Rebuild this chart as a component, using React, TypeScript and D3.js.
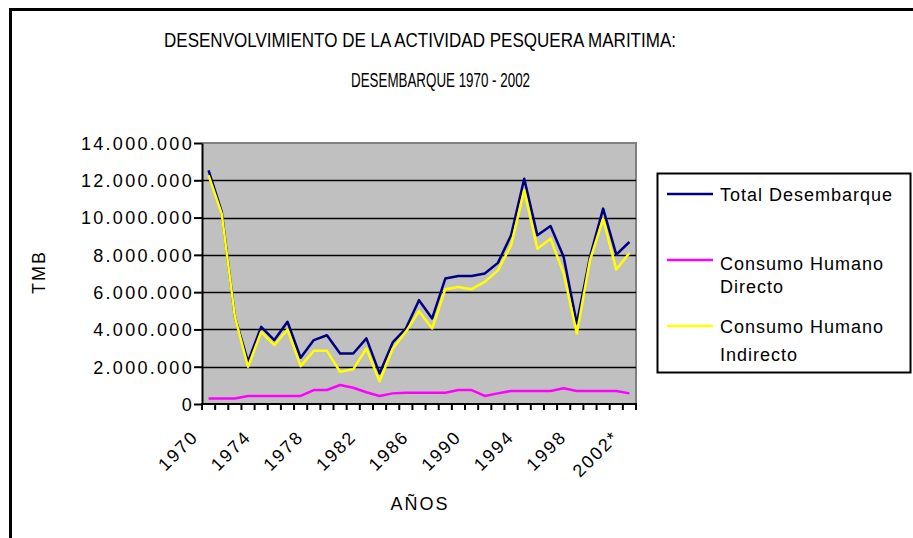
import React, { useEffect, useRef } from "react";
import * as d3 from "d3";

// Desembarque (TMB) por año
const years = [
  "1970", "1971", "1972", "1973", "1974", "1975", "1976", "1977", "1978", "1979",
  "1980", "1981", "1982", "1983", "1984", "1985", "1986", "1987", "1988", "1989",
  "1990", "1991", "1992", "1993", "1994", "1995", "1996", "1997", "1998", "1999",
  "2000", "2001", "2002*",
];

const totalDesembarque = [
  12530000, 10300000, 4670000, 2270000, 4140000, 3430000, 4410000, 2480000, 3430000, 3690000,
  2710000, 2710000, 3520000, 1640000, 3300000, 4050000, 5570000, 4590000, 6730000, 6870000,
  6870000, 7000000, 7570000, 9050000, 12080000, 9050000, 9550000, 7890000, 4320000, 7890000,
  10480000, 8010000, 8690000,
];

const consumoDirecto = [
  300000, 300000, 300000, 430000, 430000, 430000, 430000, 430000, 750000, 750000,
  1020000, 870000, 630000, 430000, 570000, 600000, 600000, 600000, 600000, 750000,
  750000, 430000, 570000, 700000, 700000, 700000, 700000, 840000, 700000, 700000,
  700000, 700000, 570000,
];

const consumoIndirecto = [
  12260000, 10200000, 4670000, 2000000, 3870000, 3160000, 4000000, 2030000, 2850000, 2850000,
  1730000, 1860000, 2980000, 1220000, 2960000, 3870000, 4980000, 4050000, 6160000, 6280000,
  6160000, 6550000, 7170000, 8510000, 11460000, 8330000, 8870000, 7000000, 3780000, 7710000,
  9940000, 7210000, 8100000,
];

const yTicks = [0, 2000000, 4000000, 6000000, 8000000, 10000000, 12000000, 14000000];
const shownYearLabels = ["1970", "1974", "1978", "1982", "1986", "1990", "1994", "1998", "2002*"];

const seriesNames = ["Total Desembarque", "Consumo Humano Directo", "Consumo Humano Indirecto"];
const seriesColors = ["#000080", "#FF00FF", "#FFFF00"];

const FONT = "'Liberation Sans', Arial, sans-serif";

const App = () => {
  const chartRef = useRef<HTMLDivElement>(null);

  useEffect(() => {
    const width = 913;
    const height = 538;
    const plot = { left: 202, right: 636, top: 143, bottom: 404 };

    d3.select(chartRef.current).select("svg").remove();

    const svg = d3
      .select(chartRef.current)
      .append("svg")
      .attr("width", width)
      .attr("height", height)
      .style("display", "block")
      .style("font-family", FONT);

    svg.append("rect").attr("width", width).attr("height", height).attr("fill", "#fff");

    // outer chart border (runs off the right/bottom edge)
    svg
      .append("rect")
      .attr("x", 10.5)
      .attr("y", 9.5)
      .attr("width", 1000)
      .attr("height", 1000)
      .attr("fill", "none")
      .attr("stroke", "#000")
      .attr("stroke-width", 3);

    // title (squeezed like the original metafile text)
    svg
      .append("text")
      .attr("x", 164)
      .attr("y", 47)
      .attr("textLength", 512)
      .attr("lengthAdjust", "spacingAndGlyphs")
      .style("font-size", "20px")
      .text("DESENVOLVIMIENTO DE LA ACTIVIDAD PESQUERA MARITIMA:");
    svg
      .append("text")
      .attr("x", 351)
      .attr("y", 87)
      .attr("textLength", 179)
      .attr("lengthAdjust", "spacingAndGlyphs")
      .style("font-size", "20px")
      .text("DESEMBARQUE 1970 - 2002");

    const x = d3.scaleBand().domain(years).range([plot.left, plot.right]).padding(0);
    const y = d3.scaleLinear().domain([0, 14000000]).range([plot.bottom, plot.top]);
    const cx = (yr) => x(yr) + x.bandwidth() / 2;

    // plot area
    svg
      .append("rect")
      .attr("x", plot.left)
      .attr("y", plot.top)
      .attr("width", plot.right - plot.left)
      .attr("height", plot.bottom - plot.top)
      .attr("fill", "#C0C0C0");
    svg
      .append("path")
      .attr("d", `M${plot.left},${plot.top} H${plot.right} V${plot.bottom}`)
      .attr("fill", "none")
      .attr("stroke", "#808080")
      .attr("stroke-width", 2);

    // gridlines
    svg
      .append("g")
      .selectAll("line")
      .data(yTicks.filter((d) => d > 0 && d < 14000000))
      .enter()
      .append("line")
      .attr("x1", plot.left)
      .attr("x2", plot.right)
      .attr("y1", (d) => Math.round(y(d)) + 0.5)
      .attr("y2", (d) => Math.round(y(d)) + 0.5)
      .attr("stroke", "#000")
      .attr("stroke-width", 1.5);

    const fmt = d3.formatLocale({ decimal: ",", thousands: ".", grouping: [3], currency: ["", ""] }).format(",.0f");

    // y axis
    const yAxis = svg
      .append("g")
      .attr("transform", `translate(${plot.left},0)`)
      .call(d3.axisLeft(y).tickValues(yTicks).tickSize(8).tickSizeOuter(0).tickPadding(8).tickFormat((d) => fmt(d)));
    yAxis.select(".domain").attr("stroke", "#000").attr("stroke-width", 2);
    yAxis.selectAll(".tick line").attr("stroke", "#000").attr("stroke-width", 2);
    yAxis
      .selectAll("text")
      .attr("fill", "#000")
      .attr("x", -8)
      .attr("dy", "0.35em")
      .style("font-family", FONT)
      .style("font-size", "18px")
      .style("letter-spacing", "2.3px");

    // x axis: ticks at category boundaries
    const xAxisG = svg.append("g");
    xAxisG
      .append("line")
      .attr("x1", plot.left - 1)
      .attr("x2", plot.right + 1)
      .attr("y1", plot.bottom)
      .attr("y2", plot.bottom)
      .attr("stroke", "#000")
      .attr("stroke-width", 2);
    xAxisG
      .selectAll(".xt")
      .data(years.map((yr) => x(yr)).concat([plot.right]))
      .enter()
      .append("line")
      .attr("class", "xt")
      .attr("x1", (d) => d)
      .attr("x2", (d) => d)
      .attr("y1", plot.bottom)
      .attr("y2", plot.bottom + 6)
      .attr("stroke", "#000")
      .attr("stroke-width", 2);
    xAxisG
      .selectAll(".xl")
      .data(shownYearLabels)
      .enter()
      .append("text")
      .attr("class", "xl")
      .attr("transform", (d) => `translate(${cx(d) - 9},${438}) rotate(-45)`)
      .attr("text-anchor", "end")
      .style("font-size", "18px")
      .style("letter-spacing", "2px")
      .text((d) => d);

    // axis titles
    svg
      .append("text")
      .attr("transform", "translate(45,272) rotate(-90)")
      .attr("text-anchor", "middle")
      .style("font-size", "18px")
      .style("letter-spacing", "2px")
      .text("TMB");
    svg
      .append("text")
      .attr("x", 420)
      .attr("y", 510)
      .attr("text-anchor", "middle")
      .style("font-size", "18px")
      .style("letter-spacing", "2px")
      .text("AÑOS");

    // lines
    const seriesData = [totalDesembarque, consumoDirecto, consumoIndirecto];
    const line = d3
      .line()
      .x((d, i) => cx(years[i]))
      .y((d) => y(d));
    seriesData.forEach((vals, k) => {
      svg
        .append("path")
        .datum(vals)
        .attr("d", line)
        .attr("fill", "none")
        .attr("stroke", seriesColors[k])
        .attr("stroke-width", 2.5)
        .attr("stroke-linejoin", "round");
    });

    // legend
    const legend = svg.append("g");
    legend
      .append("rect")
      .attr("x", 657.5)
      .attr("y", 173.5)
      .attr("width", 253)
      .attr("height", 199)
      .attr("fill", "#fff")
      .attr("stroke", "#000")
      .attr("stroke-width", 2);

    const legendItems = [
      { lineY: 194, lines: ["Total Desembarque"], baselines: [200.5] },
      { lineY: 260, lines: ["Consumo Humano", "Directo"], baselines: [269.5, 293] },
      { lineY: 326, lines: ["Consumo Humano", "Indirecto"], baselines: [332.5, 360.5] },
    ];
    legendItems.forEach((item, k) => {
      legend
        .append("line")
        .attr("x1", 667)
        .attr("x2", 713)
        .attr("y1", item.lineY)
        .attr("y2", item.lineY)
        .attr("stroke", seriesColors[k])
        .attr("stroke-width", 2.5)
        .append("title")
        .text(seriesNames[k]);
      item.lines.forEach((t, j) => {
        legend
          .append("text")
          .attr("x", 720)
          .attr("y", item.baselines[j])
          .style("font-size", "18px")
          .style("letter-spacing", "1px")
          .text(t);
      });
    });
  }, []);

  return (
    <div style={{ position: "absolute", left: 0, top: 0 }}>
      <div ref={chartRef}></div>
    </div>
  );
};

export default App;
